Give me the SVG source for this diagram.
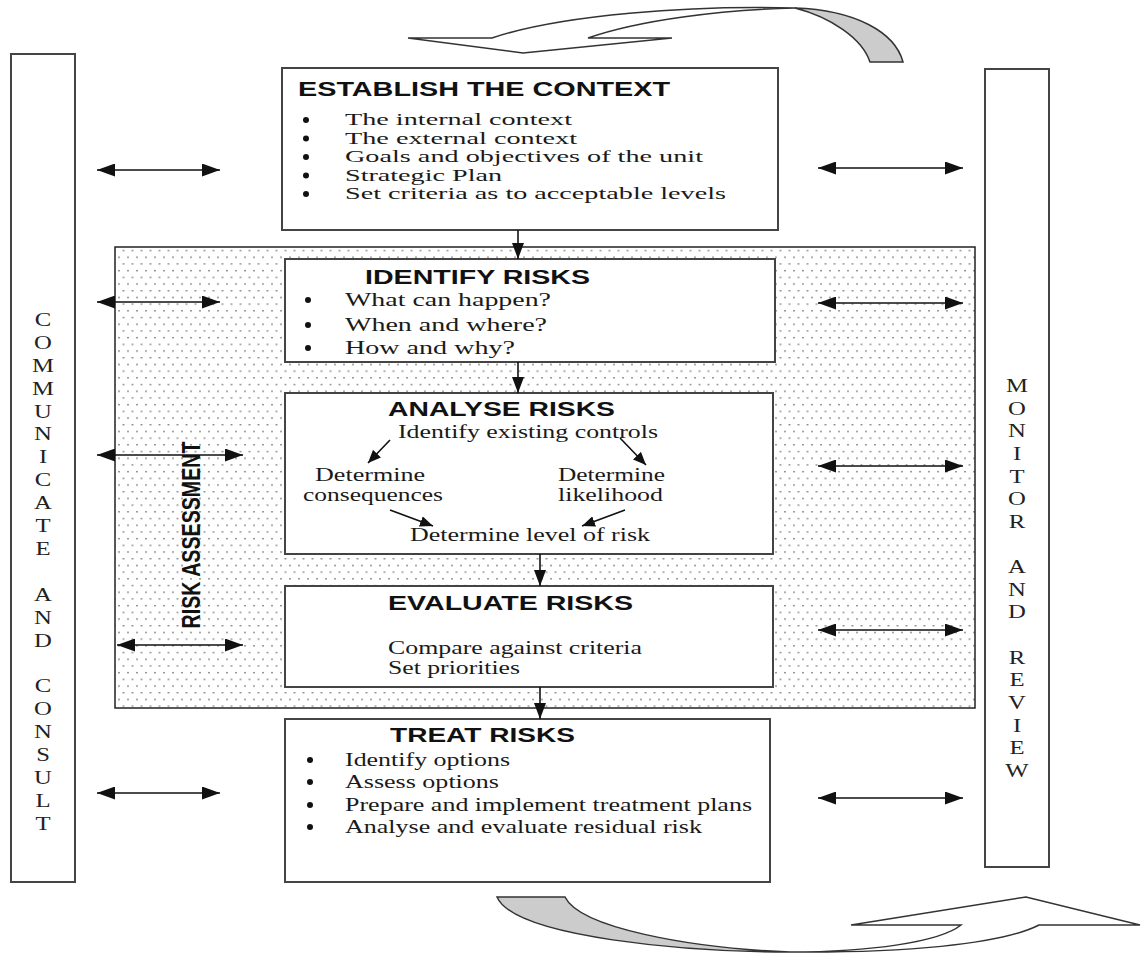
<svg xmlns="http://www.w3.org/2000/svg" width="1141" height="954" viewBox="0 0 1141 954">
<style>
.col{fill:#fff;stroke:#444;stroke-width:2}
.box{fill:#fff;stroke:#444;stroke-width:2}
.ttl{font-family:"Liberation Sans",Arial,sans-serif;font-weight:bold;font-size:21px;fill:#111}
.bd{font-family:"Liberation Serif","Times New Roman",serif;font-size:19px;fill:#1a1a1a}
.es{font-family:"Liberation Serif","Times New Roman",serif;font-size:16.5px;fill:#1a1a1a}
.sm{font-family:"Liberation Serif","Times New Roman",serif;font-size:18.5px;fill:#1a1a1a}
.ct{font-family:"Liberation Serif","Times New Roman",serif;font-size:19px;fill:#222;text-anchor:middle}
.ra{font-family:"Liberation Sans",Arial,sans-serif;font-weight:bold;font-size:25px;fill:#111;text-anchor:middle}
.bul{fill:#111}
.cn{stroke:#111;stroke-width:1.6;fill:none}
.cv{stroke:#333;stroke-width:1.5}
</style>
<defs>
<marker id="ah" viewBox="0 0 18 13" refX="18" refY="6.5" markerWidth="18" markerHeight="13" markerUnits="userSpaceOnUse" orient="auto-start-reverse"><path d="M0 0 L18 6.5 L0 13 Z" fill="#111"/></marker>
<marker id="av" viewBox="0 0 16 12" refX="16" refY="6" markerWidth="16" markerHeight="12" markerUnits="userSpaceOnUse" orient="auto"><path d="M0 0 L16 6 L0 12 Z" fill="#111"/></marker>
<marker id="as" viewBox="0 0 13 11" refX="13" refY="5.5" markerWidth="13" markerHeight="11" markerUnits="userSpaceOnUse" orient="auto"><path d="M0 0 L13 5.5 L0 11 Z" fill="#111"/></marker>
<pattern id="dots" width="9" height="13.4" patternUnits="userSpaceOnUse"><rect x="1" y="2" width="2" height="1.3" fill="#888"/><rect x="5.5" y="8.7" width="2" height="1.3" fill="#888"/></pattern>
</defs>

<g id="cycle-top">
<path d="M408 38 L492 38 C560 15 690 5 795 8 C720 10 640 20 588 38 L672 38 L523 53 Z" class="cv" fill="#fff"/>
<path d="M795 8 C855 10 895 32 903 62 L870 62 C862 38 830 17 795 8 Z" class="cv" fill="#ccc"/>
</g>
<g id="cycle-bottom">
<path d="M497 897 L565 897 C580 928 690 948 790 952 C690 952 515 938 497 897 Z" class="cv" fill="#ccc"/>
<path d="M790 952 C870 952 940 942 961 925 L851 925 L1026 897 L1140 925 L1039 925 C1000 945 900 953 790 952 Z" class="cv" fill="#fff"/>
</g>

<g id="communicate-consult">
<rect class="col" x="11" y="54" width="64" height="828"/>
<text class="ct" transform="translate(43,0) scale(1.3,1)"><tspan x="0" y="326">C</tspan><tspan x="0" y="348.9">O</tspan><tspan x="0" y="371.8">M</tspan><tspan x="0" y="394.7">M</tspan><tspan x="0" y="417.6">U</tspan><tspan x="0" y="440.5">N</tspan><tspan x="0" y="463.4">I</tspan><tspan x="0" y="486.3">C</tspan><tspan x="0" y="509.2">A</tspan><tspan x="0" y="532.1">T</tspan><tspan x="0" y="555">E</tspan><tspan x="0" y="600.8">A</tspan><tspan x="0" y="623.7">N</tspan><tspan x="0" y="646.6">D</tspan><tspan x="0" y="692.4">C</tspan><tspan x="0" y="715.3">O</tspan><tspan x="0" y="738.2">N</tspan><tspan x="0" y="761.1">S</tspan><tspan x="0" y="784">U</tspan><tspan x="0" y="806.9">L</tspan><tspan x="0" y="829.8">T</tspan></text>
</g>

<g id="monitor-review">
<rect class="col" x="985" y="69" width="64" height="798"/>
<text class="ct" transform="translate(1017,0) scale(1.3,1)"><tspan x="0" y="392">M</tspan><tspan x="0" y="414.6">O</tspan><tspan x="0" y="437.3">N</tspan><tspan x="0" y="460">I</tspan><tspan x="0" y="482.6">T</tspan><tspan x="0" y="505.3">O</tspan><tspan x="0" y="527.9">R</tspan><tspan x="0" y="573.2">A</tspan><tspan x="0" y="595.9">N</tspan><tspan x="0" y="618.5">D</tspan><tspan x="0" y="663.8">R</tspan><tspan x="0" y="686.5">E</tspan><tspan x="0" y="709.1">V</tspan><tspan x="0" y="731.8">I</tspan><tspan x="0" y="754.4">E</tspan><tspan x="0" y="777">W</tspan></text>
</g>

<g id="risk-assessment">
<rect x="115" y="247" width="860" height="461" fill="url(#dots)" stroke="#222" stroke-width="1.5"/>
<text class="ra" transform="translate(200,535) rotate(-90)" x="0" y="0" textLength="187" lengthAdjust="spacingAndGlyphs">RISK ASSESSMENT</text>
</g>

<g id="establish-context">
<rect class="box" x="282" y="68" width="496" height="162"/>
<text class="ttl" x="298" y="96" textLength="372" lengthAdjust="spacingAndGlyphs">ESTABLISH THE CONTEXT</text>
<circle class="bul" cx="306" cy="120" r="3"/><circle class="bul" cx="306" cy="138.5" r="3"/><circle class="bul" cx="306" cy="157" r="3"/><circle class="bul" cx="306" cy="175.5" r="3"/><circle class="bul" cx="306" cy="194" r="3"/>
<text class="es" x="345" y="125" textLength="227" lengthAdjust="spacingAndGlyphs">The internal context</text>
<text class="es" x="345" y="143.5" textLength="232" lengthAdjust="spacingAndGlyphs">The external context</text>
<text class="es" x="345" y="162" textLength="358" lengthAdjust="spacingAndGlyphs">Goals and objectives of the unit</text>
<text class="es" x="345" y="180.5" textLength="157" lengthAdjust="spacingAndGlyphs">Strategic Plan</text>
<text class="es" x="345" y="199" textLength="381" lengthAdjust="spacingAndGlyphs">Set criteria as to acceptable levels</text>
</g>

<g id="identify-risks">
<rect class="box" x="285" y="259" width="490" height="103"/>
<text class="ttl" x="365" y="284" textLength="225" lengthAdjust="spacingAndGlyphs">IDENTIFY RISKS</text>
<circle class="bul" cx="308" cy="300" r="3"/><circle class="bul" cx="308" cy="325" r="3"/><circle class="bul" cx="308" cy="348" r="3"/>
<text class="bd" x="345" y="306" textLength="206" lengthAdjust="spacingAndGlyphs">What can happen?</text>
<text class="bd" x="345" y="331" textLength="202" lengthAdjust="spacingAndGlyphs">When and where?</text>
<text class="bd" x="345" y="354" textLength="170" lengthAdjust="spacingAndGlyphs">How and why?</text>
</g>

<g id="analyse-risks">
<rect class="box" x="285" y="393" width="488" height="161"/>
<text class="ttl" x="388" y="416" textLength="227" lengthAdjust="spacingAndGlyphs">ANALYSE RISKS</text>
<text class="sm" x="398" y="438" textLength="260" lengthAdjust="spacingAndGlyphs">Identify existing controls</text>
<text class="sm" x="315" y="481" textLength="110" lengthAdjust="spacingAndGlyphs">Determine</text>
<text class="sm" x="303" y="501" textLength="140" lengthAdjust="spacingAndGlyphs">consequences</text>
<text class="sm" x="558" y="481" textLength="107" lengthAdjust="spacingAndGlyphs">Determine</text>
<text class="sm" x="558" y="501" textLength="105" lengthAdjust="spacingAndGlyphs">likelihood</text>
<text class="sm" x="410" y="541" textLength="240" lengthAdjust="spacingAndGlyphs">Determine level of risk</text>
</g>

<g id="evaluate-risks">
<rect class="box" x="285" y="586" width="488" height="101"/>
<text class="ttl" x="388" y="610" textLength="245" lengthAdjust="spacingAndGlyphs">EVALUATE RISKS</text>
<text class="sm" x="388" y="654" textLength="254" lengthAdjust="spacingAndGlyphs">Compare against criteria</text>
<text class="sm" x="388" y="674" textLength="132" lengthAdjust="spacingAndGlyphs">Set priorities</text>
</g>

<g id="treat-risks">
<rect class="box" x="285" y="719" width="485" height="163"/>
<text class="ttl" x="390" y="742" textLength="185" lengthAdjust="spacingAndGlyphs">TREAT RISKS</text>
<circle class="bul" cx="310" cy="760" r="3"/><circle class="bul" cx="310" cy="782" r="3"/><circle class="bul" cx="310" cy="805" r="3"/><circle class="bul" cx="310" cy="827" r="3"/>
<text class="sm" x="345" y="766" textLength="165" lengthAdjust="spacingAndGlyphs">Identify options</text>
<text class="sm" x="345" y="788" textLength="154" lengthAdjust="spacingAndGlyphs">Assess options</text>
<text class="sm" x="345" y="811" textLength="407" lengthAdjust="spacingAndGlyphs">Prepare and implement treatment plans</text>
<text class="sm" x="345" y="833" textLength="357" lengthAdjust="spacingAndGlyphs">Analyse and evaluate residual risk</text>
</g>

<g id="connectors">
<line class="cn" x1="518" y1="230" x2="518" y2="259" marker-end="url(#av)"/>
<line class="cn" x1="518" y1="362" x2="518" y2="393" marker-end="url(#av)"/>
<line class="cn" x1="540" y1="554" x2="540" y2="586" marker-end="url(#av)"/>
<line class="cn" x1="540" y1="687" x2="540" y2="719" marker-end="url(#av)"/>
<line class="cn" x1="390" y1="440" x2="368" y2="463" marker-end="url(#as)"/>
<line class="cn" x1="620" y1="438" x2="646" y2="465" marker-end="url(#as)"/>
<line class="cn" x1="390" y1="510" x2="433" y2="526" marker-end="url(#as)"/>
<line class="cn" x1="625" y1="510" x2="582" y2="526" marker-end="url(#as)"/>
<line class="cn" x1="97" y1="170" x2="220" y2="170" marker-start="url(#ah)" marker-end="url(#ah)"/>
<line class="cn" x1="97" y1="302" x2="220" y2="302" marker-start="url(#ah)" marker-end="url(#ah)"/>
<line class="cn" x1="97" y1="455" x2="243" y2="455" marker-start="url(#ah)" marker-end="url(#ah)"/>
<line class="cn" x1="117" y1="645" x2="243" y2="645" marker-start="url(#ah)" marker-end="url(#ah)"/>
<line class="cn" x1="97" y1="793" x2="220" y2="793" marker-start="url(#ah)" marker-end="url(#ah)"/>
<line class="cn" x1="818" y1="168" x2="963" y2="168" marker-start="url(#ah)" marker-end="url(#ah)"/>
<line class="cn" x1="818" y1="303" x2="963" y2="303" marker-start="url(#ah)" marker-end="url(#ah)"/>
<line class="cn" x1="818" y1="466" x2="963" y2="466" marker-start="url(#ah)" marker-end="url(#ah)"/>
<line class="cn" x1="818" y1="630" x2="963" y2="630" marker-start="url(#ah)" marker-end="url(#ah)"/>
<line class="cn" x1="818" y1="798" x2="963" y2="798" marker-start="url(#ah)" marker-end="url(#ah)"/>
</g>
</svg>
